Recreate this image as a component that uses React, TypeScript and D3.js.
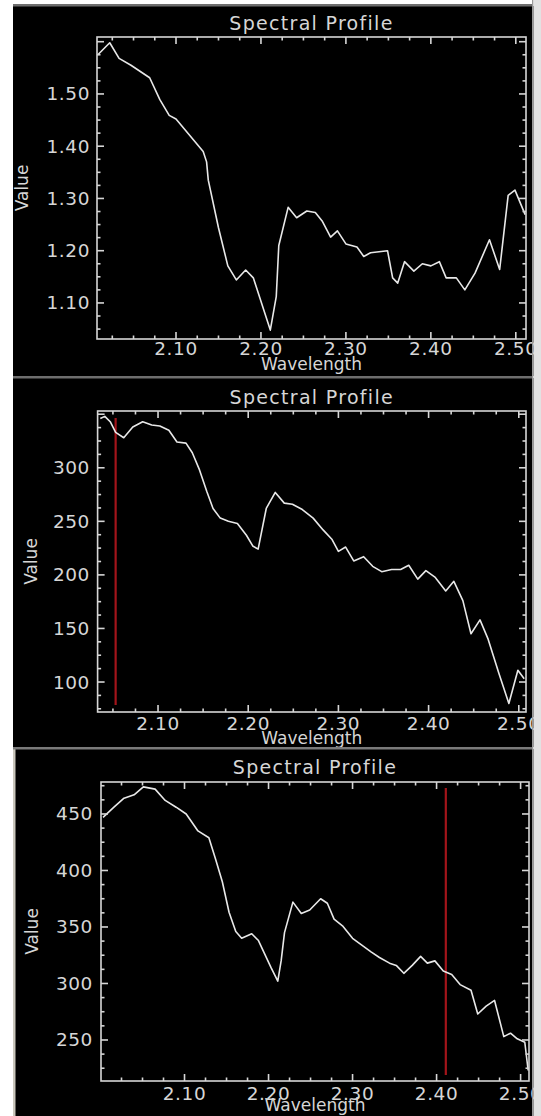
import React from "react";
import * as d3 from "d3";

// ---------- data ----------
const X_TICKS = [2.1, 2.2, 2.3, 2.4, 2.5];

const P1_WAVELENGTH = [2.008, 2.022, 2.033, 2.047, 2.069, 2.081, 2.092, 2.1, 2.132, 2.136, 2.138, 2.15, 2.161, 2.171, 2.182, 2.191, 2.211, 2.218, 2.221, 2.232, 2.242, 2.254, 2.264, 2.272, 2.282, 2.29, 2.3, 2.313, 2.321, 2.329, 2.349, 2.355, 2.361, 2.369, 2.38, 2.39, 2.4, 2.41, 2.418, 2.43, 2.44, 2.452, 2.469, 2.481, 2.491, 2.499, 2.511];
const P1_VALUE = [1.575, 1.598, 1.568, 1.555, 1.531, 1.489, 1.459, 1.452, 1.39, 1.37, 1.335, 1.244, 1.171, 1.144, 1.163, 1.148, 1.048, 1.112, 1.21, 1.283, 1.263, 1.276, 1.273, 1.257, 1.226, 1.238, 1.213, 1.207, 1.189, 1.196, 1.2, 1.148, 1.138, 1.179, 1.161, 1.175, 1.171, 1.179, 1.148, 1.148, 1.125, 1.157, 1.221, 1.164, 1.306, 1.316, 1.269];
const P1_YTICKS = [1.1, 1.2, 1.3, 1.4, 1.5];

const P2_WAVELENGTH = [2.036, 2.041, 2.047, 2.053, 2.062, 2.072, 2.083, 2.093, 2.102, 2.112, 2.121, 2.131, 2.138, 2.146, 2.154, 2.161, 2.169, 2.178, 2.188, 2.198, 2.205, 2.211, 2.22, 2.23, 2.24, 2.249, 2.26, 2.272, 2.283, 2.293, 2.3, 2.308, 2.317, 2.328, 2.338, 2.348, 2.359, 2.369, 2.378, 2.388, 2.397, 2.407, 2.419, 2.428, 2.438, 2.447, 2.457, 2.466, 2.478, 2.489, 2.499, 2.506];
const P2_VALUE = [346, 348, 343, 333, 328, 338, 343, 340, 339, 335, 324, 323, 314, 298, 278, 262, 253, 250, 248, 237, 227, 224, 262, 277, 267, 266, 261, 253, 242, 233, 222, 226, 213, 217, 208, 203, 205, 205, 209, 196, 204, 198, 185, 194, 176, 145, 158, 140, 108, 80, 111, 103];
const P2_YTICKS = [100, 150, 200, 250, 300];
const P2_MARKER = 2.053;

const P3_WAVELENGTH = [2.003, 2.016, 2.028, 2.04, 2.051, 2.065, 2.077, 2.09, 2.102, 2.116, 2.129, 2.137, 2.145, 2.153, 2.161, 2.168, 2.18, 2.188, 2.203, 2.211, 2.215, 2.219, 2.229, 2.239, 2.249, 2.262, 2.27, 2.278, 2.288, 2.3, 2.311, 2.322, 2.332, 2.344, 2.352, 2.361, 2.371, 2.381, 2.389, 2.398, 2.408, 2.418, 2.428, 2.441, 2.449, 2.459, 2.469, 2.48, 2.488, 2.496, 2.505, 2.509];
const P3_VALUE = [447, 456, 464, 467, 474, 472, 462, 456, 450, 435, 429, 410, 390, 363, 346, 340, 344, 338, 314, 302, 320, 345, 372, 362, 365, 375, 371, 357, 351, 340, 334, 328, 323, 318, 316, 309, 316, 324, 318, 320, 311, 308, 299, 294, 273, 280, 285, 253, 256, 251, 248, 223];
const P3_YTICKS = [250, 300, 350, 400, 450];
const P3_MARKER = 2.411;

const TITLE = "Spectral Profile";
const X_TITLE = "Wavelength";
const Y_TITLE = "Value";

// ---------- styles ----------
const FG = "#d6d6d6";
const FONT = "DejaVu Sans, sans-serif";

type PanelProps = {
  bgTop: number; bgBottom: number;
  left: number; right: number; top: number; bottom: number;
  titleY: number; tickLabelY: number; xTitleY: number; yTitleX: number; yLabelX: number;
  wl: number[]; vals: number[];
  xDomain: [number, number]; yDomain: [number, number];
  yTicks: number[]; yStep: number; yFmt: (n: number) => string;
  marker?: number; markerTop?: number; markerBottom?: number;
  leftBorder?: boolean;
};

function minorTicks(domain: [number, number], step: number) {
  const out: number[] = [];
  const s = step / 4;
  let k = Math.ceil(domain[0] / s - 1e-6);
  while (k * s <= domain[1] + 1e-9) { out.push(k * s); k++; }
  return out;
}

function Panel(p: PanelProps) {
  const x = d3.scaleLinear().domain(p.xDomain).range([p.left, p.right]);
  const y = d3.scaleLinear().domain(p.yDomain).range([p.bottom, p.top]);
  const line = d3.line<number>().x((_, i) => x(p.wl[i])).y((d) => y(d));
  const xMinor = minorTicks(p.xDomain, 0.1);
  const yMinor = minorTicks(p.yDomain, p.yStep);
  const isMajor = (v: number, step: number) => Math.abs(v / step - Math.round(v / step)) < 1e-4;
  const fx = d3.format(".2f");
  const midY = (p.top + p.bottom) / 2;
  return (
    <g>
      <rect x={13} y={p.bgTop} width={528} height={p.bgBottom - p.bgTop} fill="#000" />
      {p.leftBorder && <rect x={13} y={p.bgTop} width={2.5} height={p.bgBottom - p.bgTop} fill="#c9c6bb" />}
      <text x={(p.left + p.right) / 2} y={p.titleY} fill={FG} fontFamily={FONT} fontSize={19} letterSpacing={1.3} textAnchor="middle" dominantBaseline="central">{TITLE}</text>
      {p.marker !== undefined && (
        <line x1={x(p.marker)} x2={x(p.marker)} y1={p.markerTop} y2={p.markerBottom} stroke="#a3141a" strokeWidth={2.2} />
      )}
      <path d={line(p.vals) || ""} fill="none" stroke="#e8e8e8" strokeWidth={1.6} strokeLinejoin="round" />
      <rect x={p.left} y={p.top} width={p.right - p.left} height={p.bottom - p.top} fill="none" stroke={FG} strokeWidth={1.6} />
      {xMinor.map((t, i) => {
        const L = isMajor(t, 0.1) ? 7 : 3.5;
        return (
          <g key={"xm" + i}>
            <line x1={x(t)} x2={x(t)} y1={p.bottom} y2={p.bottom - L} stroke={FG} strokeWidth={1.6} />
            <line x1={x(t)} x2={x(t)} y1={p.top} y2={p.top + L} stroke={FG} strokeWidth={1.6} />
          </g>
        );
      })}
      {yMinor.map((t, i) => {
        const L = isMajor(t, p.yStep) ? 7 : 3.5;
        return (
          <g key={"ym" + i}>
            <line x1={p.left} x2={p.left + L} y1={y(t)} y2={y(t)} stroke={FG} strokeWidth={1.6} />
            <line x1={p.right} x2={p.right - L} y1={y(t)} y2={y(t)} stroke={FG} strokeWidth={1.6} />
          </g>
        );
      })}
      {X_TICKS.map((t) => (
        <text key={"xl" + t} x={x(t)} y={p.tickLabelY} fill={FG} fontFamily={FONT} fontSize={18.5} letterSpacing={0.6} textAnchor="middle" dominantBaseline="central">{fx(t)}</text>
      ))}
      {p.yTicks.map((t) => (
        <text key={"yl" + t} x={p.yLabelX} y={y(t)} fill={FG} fontFamily={FONT} fontSize={18.5} letterSpacing={0.6} textAnchor="end" dominantBaseline="central">{p.yFmt(t)}</text>
      ))}
      <text x={(p.left + p.right) / 2} y={p.xTitleY} fill={FG} fontFamily={FONT} fontSize={17} textAnchor="middle" dominantBaseline="central">{X_TITLE}</text>
      <text transform={`translate(${p.yTitleX},${midY}) rotate(-90)`} fill={FG} fontFamily={FONT} fontSize={17} textAnchor="middle" dominantBaseline="central">{Y_TITLE}</text>
    </g>
  );
}

export default function App() {
  const f2 = d3.format(".2f");
  const f0 = d3.format("d");
  return (
    <svg width={541} height={1116} style={{ position: "absolute", left: 0, top: 0, background: "#fff" }}>
      <rect x={0} y={0} width={541} height={1116} fill="#fff" />
      <Panel bgTop={6} bgBottom={376} left={97} right={526} top={37} bottom={339}
        titleY={23} tickLabelY={348} xTitleY={364} yTitleX={22} yLabelX={90}
        wl={P1_WAVELENGTH} vals={P1_VALUE} xDomain={[2.007, 2.512]} yDomain={[1.031, 1.609]}
        yTicks={P1_YTICKS} yStep={0.1} yFmt={f2} />
      <Panel bgTop={378} bgBottom={747} left={97.6} right={526} top={411} bottom={712}
        titleY={397} tickLabelY={723} xTitleY={738} yTitleX={31} yLabelX={90}
        wl={P2_WAVELENGTH} vals={P2_VALUE} xDomain={[2.033, 2.508]} yDomain={[72, 353]}
        yTicks={P2_YTICKS} yStep={50} yFmt={f0} marker={P2_MARKER} markerTop={418} markerBottom={705} />
      <Panel bgTop={749} bgBottom={1116} left={101} right={529} top={782} bottom={1081}
        titleY={767} tickLabelY={1093} xTitleY={1105} yTitleX={32} yLabelX={93}
        wl={P3_WAVELENGTH} vals={P3_VALUE} xDomain={[2.0006, 2.51]} yDomain={[213.7, 478.3]}
        yTicks={P3_YTICKS} yStep={50} yFmt={f0} marker={P3_MARKER} markerTop={788} markerBottom={1075} leftBorder />
      {/* window chrome */}
      <rect x={13} y={4} width={520} height={2.5} fill="#6e6e6e" />
      <rect x={13} y={376} width={520} height={2.5} fill="#6e6e6e" />
      <rect x={13} y={747} width={520} height={2.5} fill="#7a7a7a" />
      <rect x={532} y={0} width={1.5} height={1116} fill="#9a9a9a" />
      <rect x={533.5} y={0} width={7.5} height={1116} fill="#e2e2e2" />
    </svg>
  );
}
